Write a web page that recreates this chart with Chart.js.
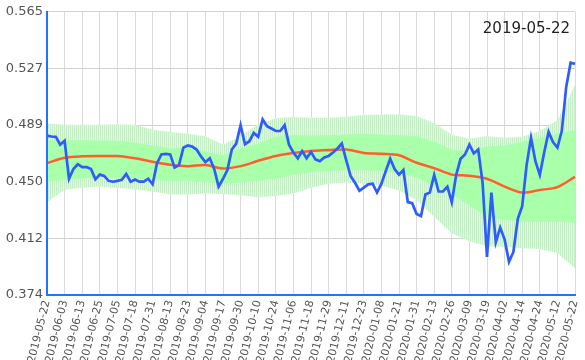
<!DOCTYPE html>
<html>
<head>
<meta charset="utf-8">
<script src="https://cdn.jsdelivr.net/npm/chart.js@4.4.0/dist/chart.umd.min.js"></script>
<style>
  html, body { margin: 0; padding: 0; background: #fff; }
  #wrap { width: 585px; height: 360px; }
</style>
</head>
<body>
<div id="wrap"><canvas id="chart"></canvas></div>
<script>
// dates shown on the x axis (one every 4 categories)
var tickDates = ['2019-05-22','2019-06-03','2019-06-13','2019-06-25','2019-07-05','2019-07-18',
  '2019-07-31','2019-08-13','2019-08-23','2019-09-04','2019-09-17','2019-09-30','2019-10-10',
  '2019-10-24','2019-11-06','2019-11-18','2019-11-29','2019-12-11','2019-12-23','2020-01-08',
  '2020-01-21','2020-01-31','2020-02-13','2020-02-26','2020-03-09','2020-03-19','2020-04-02',
  '2020-04-14','2020-04-24','2020-05-12','2020-05-22'];
var titleText = '2019-05-22';
var yTicks = [0.374, 0.4122, 0.4504, 0.4886, 0.5268, 0.565];

// price, one value every 2 trading days
var price = [0.4815,0.4809,0.4807,0.4754,0.4780,0.4524,0.4590,0.4622,0.4603,0.4603,
  0.4590,0.4520,0.4552,0.4543,0.4510,0.4504,0.4510,0.4517,0.4557,0.4504,
  0.4519,0.4504,0.4504,0.4524,0.4487,0.4629,0.4688,0.4692,0.4688,0.4599,
  0.4616,0.4734,0.4748,0.4741,0.4721,0.4675,0.4636,0.4662,0.4590,0.4471,
  0.4524,0.4583,0.4721,0.4761,0.4886,0.4757,0.4777,0.4833,0.4807,0.4925,
  0.4879,0.4863,0.4846,0.4846,0.4886,0.4754,0.4701,0.4662,0.4711,0.4662,
  0.4705,0.4655,0.4642,0.4668,0.4678,0.4701,0.4728,0.4761,0.4649,0.4543,
  0.4497,0.4443,0.4464,0.4486,0.4491,0.4431,0.4491,0.4576,0.4659,0.4590,
  0.4552,0.4583,0.4366,0.4359,0.4287,0.4273,0.4418,0.4431,0.4550,0.4438,
  0.4438,0.4471,0.4366,0.4550,0.4659,0.4688,0.4754,0.4695,0.4721,0.4497,
  0.3997,0.4431,0.4096,0.4194,0.4115,0.3964,0.4030,0.4254,0.4339,0.4616,
  0.4800,0.4642,0.4550,0.4701,0.4840,0.4771,0.4734,0.4846,0.5143,0.5307,
  0.5299];

// moving average and bands, read at each labelled date
var avg = [0.4629,0.4665,0.4675,0.4677,0.4677,0.4662,0.4639,0.4619,0.4609,0.4616,0.4593,
  0.4609,0.4645,0.4678,0.4698,0.4711,0.4718,0.4721,0.4698,0.4692,0.4682,0.4632,0.4596,
  0.4552,0.4545,0.4524,0.4471,0.4431,0.4448,0.4468,0.4537];
var outerHigh = [0.4896,0.4889,0.4889,0.4889,0.4892,0.4886,0.4856,0.4840,0.4827,0.4810,0.4754,
  0.4813,0.4892,0.4932,0.4940,0.4935,0.4935,0.4942,0.4954,0.4958,0.4958,0.4948,0.4899,
  0.4820,0.4794,0.4810,0.4800,0.4807,0.4846,0.4919,0.5156];
var innerHigh = [0.4782,0.4784,0.4784,0.4782,0.4780,0.4767,0.4748,0.4728,0.4734,0.4708,0.4682,
  0.4728,0.4761,0.4807,0.4817,0.4815,0.4817,0.4823,0.4827,0.4823,0.4817,0.4813,0.4774,
  0.4721,0.4708,0.4741,0.4748,0.4774,0.4800,0.4827,0.4853];
var innerLow = [0.4504,0.4517,0.4527,0.4537,0.4533,0.4527,0.4517,0.4507,0.4507,0.4500,0.4491,
  0.4497,0.4510,0.4524,0.4550,0.4570,0.4576,0.4583,0.4583,0.4576,0.4563,0.4530,0.4478,
  0.4418,0.4346,0.4267,0.4247,0.4234,0.4234,0.4234,0.4227];
var outerLow = [0.4366,0.4451,0.4464,0.4471,0.4461,0.4454,0.4438,0.4418,0.4418,0.4425,0.4422,
  0.4412,0.4399,0.4408,0.4425,0.4464,0.4491,0.4497,0.4491,0.4478,0.4445,0.4379,0.4267,
  0.4155,0.4102,0.4069,0.4063,0.4056,0.4050,0.4023,0.3918];

// weekdays between two labelled dates, 3 of them kept as hidden categories
function between(a, b) {
  var out = [];
  var d = new Date(a + 'T00:00:00Z');
  var end = new Date(b + 'T00:00:00Z');
  d.setUTCDate(d.getUTCDate() + 1);
  while (d < end) {
    var w = d.getUTCDay();
    if (w !== 0 && w !== 6) out.push(d.toISOString().slice(0, 10));
    d.setUTCDate(d.getUTCDate() + 1);
  }
  return out;
}
var labels = [];
for (var k = 0; k < tickDates.length; k++) {
  labels.push(tickDates[k]);
  if (k < tickDates.length - 1) {
    var mid = between(tickDates[k], tickDates[k + 1]);
    for (var m = 1; m <= 3; m++) labels.push(mid[Math.round(m * mid.length / 4) - 1]);
  }
}

function atTicks(values) {
  return tickDates.map(function(d, i) { return {x: d, y: values[i]}; });
}

// striped fill for the outer band
var pc = document.createElement('canvas');
pc.width = 2; pc.height = 1;
var pctx = pc.getContext('2d');
pctx.fillStyle = 'rgb(198,238,198)'; pctx.fillRect(0, 0, 1, 1);
pctx.fillStyle = 'rgb(226,248,226)'; pctx.fillRect(1, 0, 1, 1);
var stripes = pctx.createPattern(pc, 'repeat');

var axisBlue = 'rgb(30,115,255)';
var font = 'DejaVu Sans';

var titlePlugin = {
  id: 'cornerTitle',
  afterDraw: function(chart) {
    var ctx = chart.ctx, a = chart.chartArea;
    ctx.save();
    ctx.font = '15px "' + font + '"';
    ctx.fillStyle = '#222';
    ctx.textAlign = 'right';
    ctx.textBaseline = 'alphabetic';
    ctx.fillText(titleText, a.right - 5, a.top + 21);
    ctx.restore();
  }
};

var line = {pointRadius: 0, pointHoverRadius: 0, tension: 0};

new Chart(document.getElementById('chart').getContext('2d'), {
  type: 'line',
  data: {
    labels: labels,
    datasets: [
      Object.assign({}, line, {label: 'price', data: price, borderColor: 'rgb(45,92,255)', borderWidth: 2.7, fill: false}),
      Object.assign({}, line, {label: 'avg', data: atTicks(avg), borderColor: 'rgb(255,95,45)', borderWidth: 2.5, tension: 0.3, fill: false}),
      Object.assign({}, line, {label: 'innerHigh', data: atTicks(innerHigh), borderWidth: 0, borderColor: 'rgba(0,0,0,0)', fill: '+1', backgroundColor: 'rgb(170,255,170)'}),
      Object.assign({}, line, {label: 'innerLow', data: atTicks(innerLow), borderWidth: 0, borderColor: 'rgba(0,0,0,0)', fill: false}),
      Object.assign({}, line, {label: 'outerHigh', data: atTicks(outerHigh), borderWidth: 0, borderColor: 'rgba(0,0,0,0)', fill: '+1', backgroundColor: stripes}),
      Object.assign({}, line, {label: 'outerLow', data: atTicks(outerLow), borderWidth: 0, borderColor: 'rgba(0,0,0,0)', fill: false})
    ]
  },
  options: {
    responsive: true,
    maintainAspectRatio: false,
    animation: false,
    layout: {padding: {top: 5, right: 10, left: 0, bottom: 0}},
    plugins: {legend: {display: false}, tooltip: {enabled: false}},
    scales: {
      x: {
        type: 'category',
        offset: false,
        grid: {
          offset: false,
          drawTicks: false,
          color: function(c) { return c.index % 4 === 0 ? '#dadada' : 'rgba(0,0,0,0)'; }
        },
        border: {color: axisBlue, width: 2, z: 1},
        ticks: {
          autoSkip: false,
          minRotation: 76,
          maxRotation: 76,
          padding: 4,
          color: '#555',
          font: {family: font, size: 11},
          callback: function(v, i) { return i % 4 === 0 ? this.getLabelForValue(v) : ''; }
        },
        afterFit: function(s) { s.height = 65; s.paddingLeft = 0; s.paddingRight = 0; }
      },
      y: {
        min: 0.374,
        max: 0.565,
        grid: {drawTicks: false, color: '#d2d2d2'},
        border: {color: axisBlue, width: 2, z: 1},
        afterBuildTicks: function(s) { s.ticks = yTicks.map(function(v) { return {value: v}; }); },
        ticks: {
          padding: 4,
          color: '#555',
          font: {family: font, size: 13},
          callback: function(v) { return Number(v).toFixed(3); }
        },
        afterFit: function(s) { s.width = 47; }
      }
    }
  },
  plugins: [titlePlugin]
});
</script>
</body>
</html>
